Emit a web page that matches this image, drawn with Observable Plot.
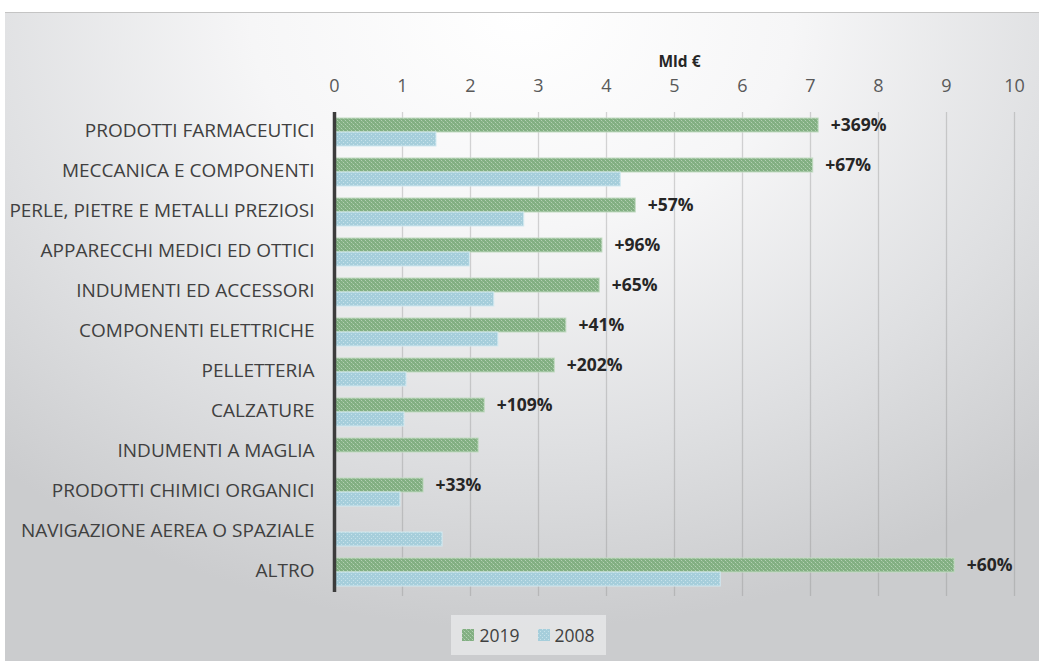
<!DOCTYPE html>
<html>
<head>
<meta charset="utf-8">
<script src="https://cdn.jsdelivr.net/npm/d3@7"></script>
<script src="https://cdn.jsdelivr.net/npm/@observablehq/plot@0.6"></script>
<style>
  html, body { margin: 0; padding: 0; background: #ffffff; }
  body { width: 1039px; height: 661px; position: relative; overflow: hidden; font-family: "Open Sans", Lato, sans-serif; }
  #panel {
    position: absolute; left: 5px; top: 12px; width: 1034px; height: 649px;
    background: radial-gradient(ellipse 75% 95% at 50% 0%, #ffffff 0%, #f6f6f7 35%, #dfe0e2 70%, #cbccce 100%);
    border-top: 1px solid #c4c4c4;
    box-sizing: border-box;
  }
  #chart { position: absolute; left: 0; top: -1px; }
  #legend {
    position: absolute; left: 446px; top: 602px; width: 155px; height: 40px;
    background: rgba(235,236,238,0.7);
    display: flex; align-items: center; justify-content: center; gap: 18px;
    font-family: "Open Sans", sans-serif; font-size: 17.5px; color: #404040;
  }
  .item { display: flex; align-items: center; gap: 5px; }
</style>
</head>
<body>
<div id="panel">
  <div id="chart"></div>
  <div id="legend"></div>
</div>
<script>
const categories = [
  "PRODOTTI FARMACEUTICI",
  "MECCANICA E COMPONENTI",
  "PERLE, PIETRE E METALLI PREZIOSI",
  "APPARECCHI MEDICI ED OTTICI",
  "INDUMENTI ED ACCESSORI",
  "COMPONENTI ELETTRICHE",
  "PELLETTERIA",
  "CALZATURE",
  "INDUMENTI A MAGLIA",
  "PRODOTTI CHIMICI ORGANICI",
  "NAVIGAZIONE AEREA O SPAZIALE",
  "ALTRO"
];
const values2019 = [7.12, 7.04, 4.43, 3.94, 3.90, 3.41, 3.24, 2.21, 2.12, 1.31, null, 9.12];
const values2008 = [1.50, 4.21, 2.79, 1.99, 2.35, 2.41, 1.06, 1.03, null, 0.97, 1.59, 5.68];
const growthLabels = ["+369%", "+67%", "+57%", "+96%", "+65%", "+41%", "+202%", "+109%", "", "+33%", "", "+60%"];
const xTicks = [0, 1, 2, 3, 4, 5, 6, 7, 8, 9, 10];
const seriesNames = ["2019", "2008"];
const axisTitle = "Mld €";

const rows2019 = categories.map((c, i) => ({cat: c, v: values2019[i], lab: growthLabels[i]})).filter(d => d.v != null);
const rows2008 = categories.map((c, i) => ({cat: c, v: values2008[i]})).filter(d => d.v != null);

const plot = Plot.plot({
  width: 1034,
  height: 600,
  marginLeft: 329,
  marginRight: 25,
  marginTop: 100,
  marginBottom: 20,
  style: {background: "transparent", fontFamily: "'Open Sans', sans-serif", overflow: "visible"},
  x: {domain: [0, 10], axis: null},
  y: {domain: categories, paddingInner: 0.3, paddingOuter: 0.15, axis: null},
  marks: [
    Plot.ruleX(xTicks.filter(d => d > 0), {stroke: "#8a8a8a", strokeOpacity: 0.35, strokeWidth: 1.3, insetBottom: -4}),
    Plot.axisX(xTicks, {anchor: "top", tickSize: 0, tickPadding: 21, fontSize: 18, fill: "#595959", label: null}),
    Plot.axisY({anchor: "left", tickSize: 0, tickPadding: 20, dy: -2, fontSize: 19, fill: "#404040", label: null}),
    Plot.text([axisTitle], {frameAnchor: "top", dx: 5, dy: -57, fontSize: 15.5, fontWeight: "bold", fill: "#262626"}),
    Plot.barX(rows2019, {x: "v", y: "cat", insetBottom: 14, fill: "url(#pat2019)", stroke: "#c2dbc2", strokeWidth: 1}),
    Plot.barX(rows2008, {x: "v", y: "cat", insetTop: 14, fill: "url(#pat2008)", stroke: "#d2e9f0", strokeWidth: 1}),
    Plot.text(rows2019.filter(d => d.lab), {x: "v", y: "cat", text: "lab", dx: 12, dy: -7, textAnchor: "start", fontSize: 17.5, fontWeight: "bold", fill: "#262626"}),
    Plot.ruleX([0], {stroke: "#3c3c3c", strokeWidth: 3.5})
  ]
});

// patterns
const ns = "http://www.w3.org/2000/svg";
const defs = document.createElementNS(ns, "defs");
defs.innerHTML = `
  <pattern id="pat2019" width="4" height="4" patternUnits="userSpaceOnUse">
    <rect width="4" height="4" fill="#82af82"/>
    <rect x="0" y="0" width="1" height="1" fill="#b3d0b3"/>
    <rect x="2" y="2" width="1" height="1" fill="#b3d0b3"/>
    <rect x="1" y="1" width="1" height="1" fill="#95bc95"/>
    <rect x="3" y="3" width="1" height="1" fill="#95bc95"/>
  </pattern>
  <pattern id="pat2008" width="4" height="4" patternUnits="userSpaceOnUse">
    <rect width="4" height="4" fill="#a6cedb"/>
    <rect x="0" y="0" width="1" height="1" fill="#c6e2ea"/>
    <rect x="2" y="2" width="1" height="1" fill="#c6e2ea"/>
  </pattern>`;
plot.insertBefore(defs, plot.firstChild);
document.getElementById("chart").appendChild(plot);

// legend
const legend = document.getElementById("legend");
const swatchFill = {"2019": "url(#pat2019)", "2008": "url(#pat2008)"};
seriesNames.forEach(name => {
  const item = document.createElement("div");
  item.className = "item";
  const sw = document.createElementNS(ns, "svg");
  sw.setAttribute("width", "12"); sw.setAttribute("height", "12");
  sw.innerHTML = `<rect width="12" height="12" fill="${swatchFill[name]}"/>`;
  item.appendChild(sw);
  const t = document.createElement("span");
  t.textContent = name;
  item.appendChild(t);
  legend.appendChild(item);
});
</script>
</body>
</html>
